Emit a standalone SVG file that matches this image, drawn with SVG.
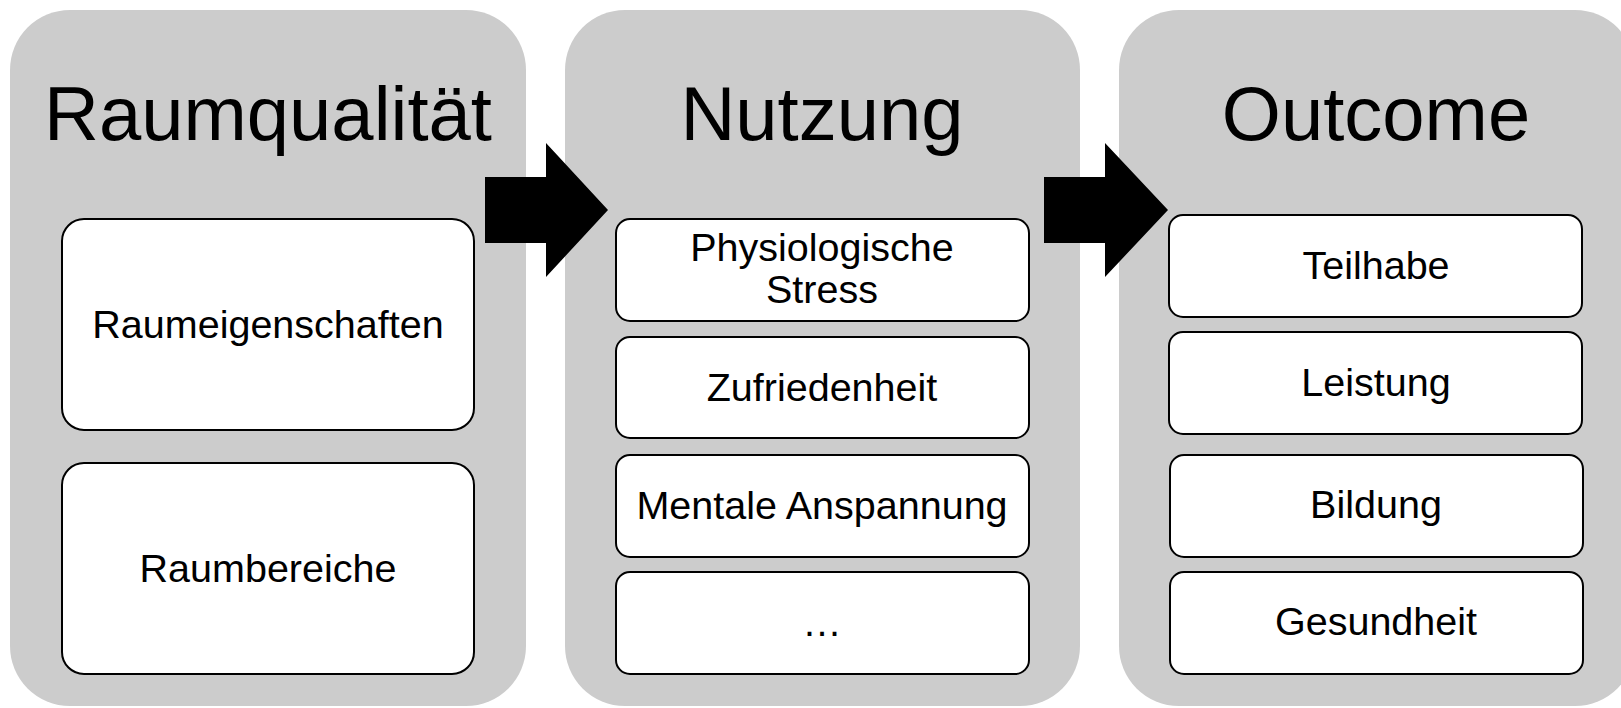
<svg xmlns="http://www.w3.org/2000/svg" width="1621" height="708" viewBox="0 0 1621 708">
<style>
.panel{fill:#cccccc;stroke:none}
.box{fill:#ffffff;stroke:#000000;stroke-width:2}
.title{font-family:"Liberation Sans",Arial,sans-serif;font-size:76px;fill:#000;text-anchor:middle}
.lbl{font-family:"Liberation Sans",Arial,sans-serif;font-size:39.5px;fill:#000;text-anchor:middle}
.arrow{fill:#000;stroke:none}
</style>
<rect x="0" y="0" width="1621" height="708" fill="#ffffff"/>
<g id="panel-raumqualitaet">
<rect class="panel" x="10" y="10" width="516" height="696" rx="60" ry="60"/>
<text class="title" x="268" y="140">Raumqualität</text>
</g>
<g id="panel-nutzung">
<rect class="panel" x="565" y="10" width="515" height="696" rx="60" ry="60"/>
<text class="title" x="822" y="140">Nutzung</text>
</g>
<g id="panel-outcome">
<rect class="panel" x="1119" y="10" width="516" height="696" rx="60" ry="60"/>
<text class="title" x="1376" y="140">Outcome</text>
</g>
<g id="connectors">
<polygon class="arrow" points="485,177 546,177 546,143 608,210 546,277 546,243 485,243"/>
<polygon class="arrow" points="1044,177 1105,177 1105,143 1168,210 1105,277 1105,243 1044,243"/>
</g>
<g id="raumeigenschaften">
<rect class="box" x="62" y="219" width="412" height="211" rx="22" ry="22"/>
<text class="lbl" x="268" y="338">Raumeigenschaften</text>
</g>
<g id="raumbereiche">
<rect class="box" x="62" y="463" width="412" height="211" rx="22" ry="22"/>
<text class="lbl" x="268" y="582">Raumbereiche</text>
</g>
<g id="physiologische-stress">
<rect class="box" x="616" y="219" width="413" height="102" rx="14" ry="14"/>
<text class="lbl" x="822" y="261">Physiologische</text>
<text class="lbl" x="822" y="303">Stress</text>
</g>
<g id="zufriedenheit">
<rect class="box" x="616" y="337" width="413" height="101" rx="14" ry="14"/>
<text class="lbl" x="822" y="401">Zufriedenheit</text>
</g>
<g id="mentale-anspannung">
<rect class="box" x="616" y="455" width="413" height="102" rx="14" ry="14"/>
<text class="lbl" x="822" y="519">Mentale Anspannung</text>
</g>
<g id="weitere">
<rect class="box" x="616" y="572" width="413" height="102" rx="14" ry="14"/>
<text class="lbl" x="822" y="636">…</text>
</g>
<g id="teilhabe">
<rect class="box" x="1169" y="215" width="413" height="102" rx="14" ry="14"/>
<text class="lbl" x="1376" y="279">Teilhabe</text>
</g>
<g id="leistung">
<rect class="box" x="1169" y="332" width="413" height="102" rx="14" ry="14"/>
<text class="lbl" x="1376" y="396">Leistung</text>
</g>
<g id="bildung">
<rect class="box" x="1170" y="455" width="413" height="102" rx="14" ry="14"/>
<text class="lbl" x="1376" y="518">Bildung</text>
</g>
<g id="gesundheit">
<rect class="box" x="1170" y="572" width="413" height="102" rx="14" ry="14"/>
<text class="lbl" x="1376" y="635">Gesundheit</text>
</g>
</svg>
